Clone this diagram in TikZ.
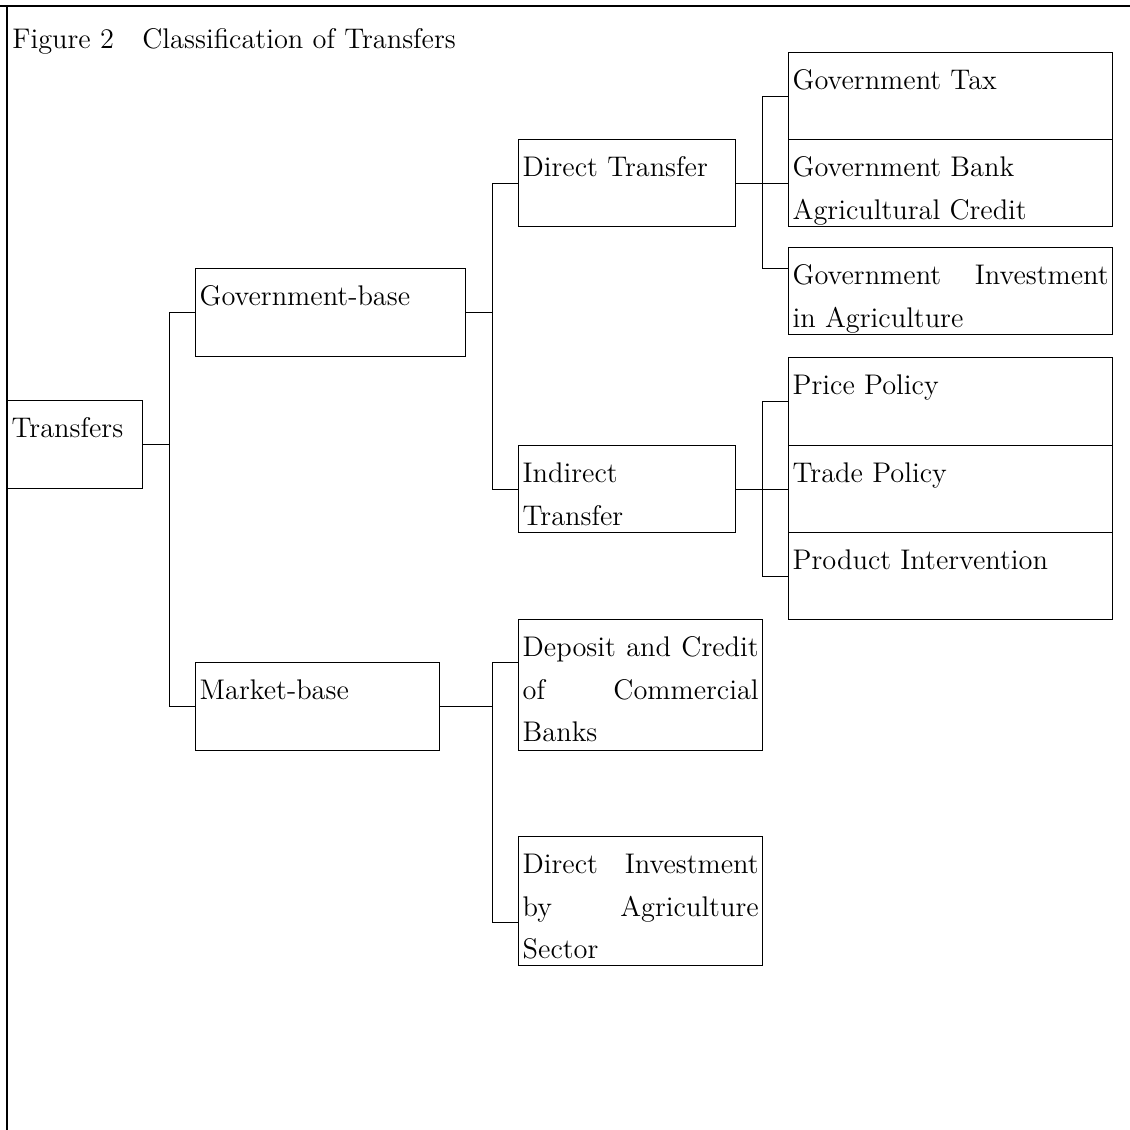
\documentclass[tikz,border=0pt]{standalone}
\usepackage{fontspec}
\usepackage{xcolor}
\hyphenpenalty=10000
\exhyphenpenalty=10000
\tolerance=9999
\tikzset{
  cell/.style 2 args={draw, line width=0.7pt, anchor=north west, inner xsep=2pt, inner ysep=0pt,
    align=justify, text width=#1, text height=18.5pt, text depth=#2,
    font=\fontsize{14.2}{21.25}\selectfont},
  link/.style={line width=0.5pt}
}
\begin{document}
\begin{tikzpicture}[x=0.5pt,y=0.5pt,yscale=-1,xscale=1]
\useasboundingbox (0,0) rectangle (1130,1130);

%Frame
\draw [line width=1pt] (0,6) -- (1130,6) ;
\draw [line width=1pt] (7,6) -- (7,1130) ;
%Title
\node [anchor=base west, inner sep=0pt, font=\fontsize{14.2}{21.25}\selectfont] (title) at (12,48) {Figure 2\quad Classification of Transfers};

%Level 1
\node [cell={63.5pt}{25.5pt}] (trans) at (7,400) {Transfers};
%Level 2
\node [cell={131pt}{25.5pt}] (gov) at (195,268) {Government-base};
\node [cell={118pt}{25.5pt}] (mkt) at (195,662) {Market-base};
%Level 3
\node [cell={104.5pt}{25pt}] (direct) at (518,139) {Direct Transfer};
\node [cell={104.5pt}{25pt}] (indirect) at (518,445) {Indirect\\Transfer};
\node [cell={118pt}{47pt}] (deposit) at (518,619) {Deposit and Credit\linebreak of Commercial\linebreak Banks};
\node [cell={118pt}{46pt}] (invest) at (518,836) {Direct Investment\linebreak by Agriculture\linebreak Sector};
%Level 4
\node [cell={158pt}{25pt}] (tax) at (788,52) {Government Tax};
\node [cell={158pt}{25pt}] (bank) at (788,139) {Government Bank\\Agricultural Credit};
\node [cell={158pt}{25pt}] (ginv) at (788,247) {Government Investment\linebreak in Agriculture};
\node [cell={158pt}{25.5pt}] (price) at (788,357) {Price Policy};
\node [cell={158pt}{25pt}] (trade) at (788,445) {Trade Policy};
\node [cell={158pt}{25pt}] (product) at (788,532) {Product Intervention};

%Connectors
\draw [link] (trans.east) -- ++(26,0) coordinate (b1) ;
\draw [link] (gov.west) -| (b1) |- (mkt.west) ;
\draw [link] (gov.east) -- ++(26,0) coordinate (b2) ;
\draw [link] (direct.west) -| (b2) |- (indirect.west) ;
\draw [link] (mkt.east) -- ++(52,0) coordinate (b3) ;
\draw [link] ([yshift=21.5pt]deposit.north west) -| (b3) |- ([yshift=43pt]invest.north west) ;
\draw [link] (direct.east) -- ++(26.5,0) coordinate (b4) -- (bank.west) ;
\draw [link] (tax.west) -| (b4) |- ([yshift=10.5pt]ginv.north west) ;
\draw [link] (indirect.east) -- ++(26.5,0) coordinate (b5) -- (trade.west) ;
\draw [link] (price.west) -| (b5) |- (product.west) ;
\end{tikzpicture}
\end{document}
